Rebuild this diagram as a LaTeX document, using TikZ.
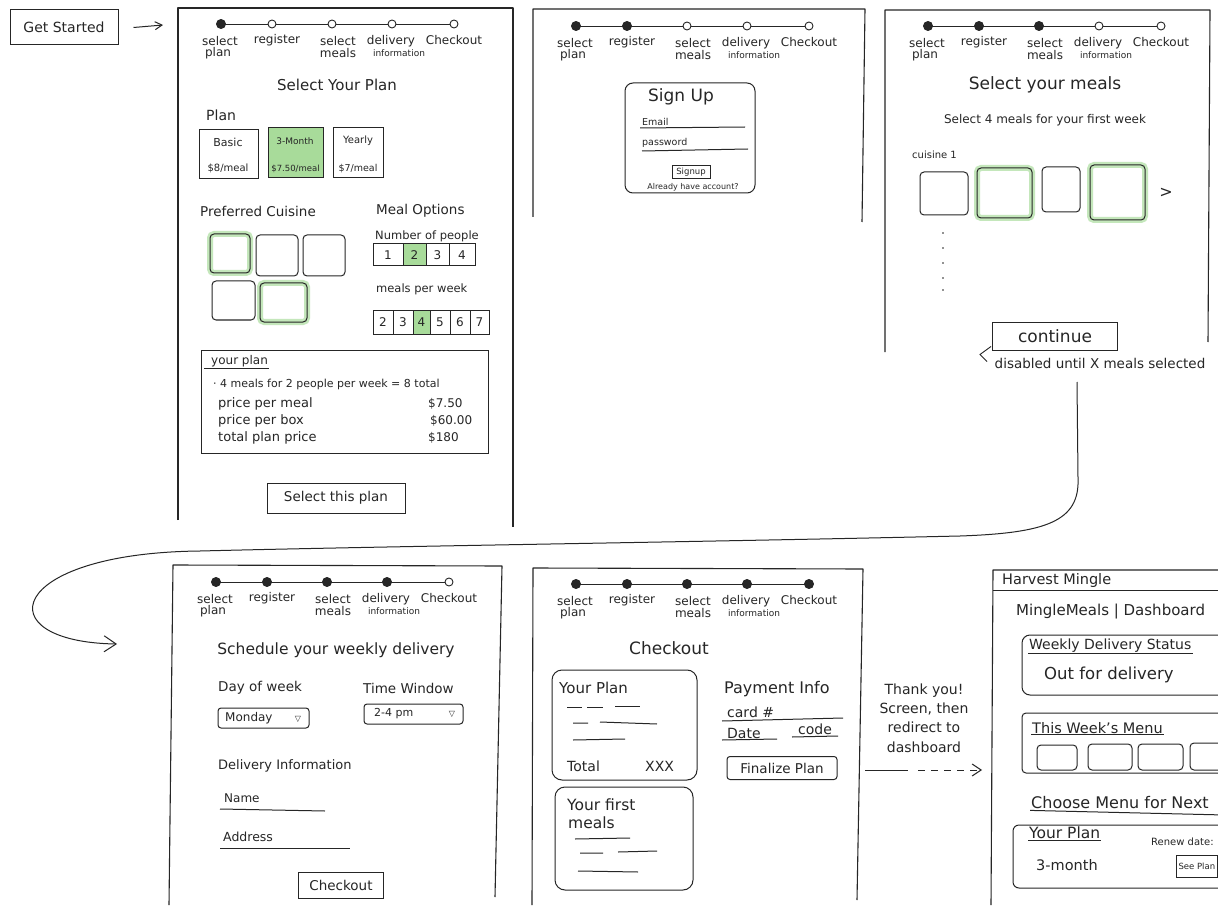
\documentclass[tikz,border=0pt]{standalone}
\usepackage{fontspec}
\setmainfont{DejaVu Sans}
\usetikzlibrary{arrows.meta}
\usetikzlibrary{positioning}
\definecolor{ink}{HTML}{262626}
\definecolor{pick}{HTML}{A8DB9A}
\definecolor{halo}{HTML}{C4E7BB}
\newcommand\fsz[1]{\fontsize{#1}{#1}\selectfont}
\tikzset{%
    lbl/.style={inner sep=1pt, text=ink},
    frame/.style={draw=ink, line width=1.1pt, line join=round},
    box/.style={draw=ink, line width=1pt},
    tile/.style={box, rounded corners=4pt},
    glow/.style={preaction={draw=halo, line width=6pt}},
    btn/.style={draw=ink, line width=1pt, inner sep=0pt, text=ink},
    stepline/.style={draw=ink, line width=0.9pt},
    stepdot/.style={circle, draw=ink, fill=white, line width=0.9pt, inner sep=0pt, minimum size=8pt},
    steplbl/.style={lbl, font=\fsz{12}},
    flow/.style={draw=ink, line width=1pt},
}
% progress bar of the sign-up flow: #1 prefix, #2 left edge, #3 dot row, #4 steps done
\newcommand\progress[4]{%
    \foreach \o [count=\i] in {43,94,154,214,276}
        \coordinate (#1d\i) at (#2+\o,#3);
    \draw [stepline] (#1d1) -- (#1d5);
    \foreach \i in {1,...,5} {
        \ifnum\i>#4\relax
            \node [stepdot] (#1s\i) at (#1d\i) {};
        \else
            \node [stepdot, fill=ink, minimum size=9pt] (#1s\i) at (#1d\i) {};
        \fi
    }
    \node [steplbl] (#1l1) at (#2+42,#3+17) {select};
    \node [steplbl] (#1l1b) at (#2+40,#3+29) {plan};
    \node [steplbl] (#1l2) at (#2+99,#3+16) {register};
    \node [steplbl] (#1l3) at (#2+160,#3+17) {select};
    \node [steplbl] (#1l3b) at (#2+160,#3+29) {meals};
    \node [steplbl] (#1l4) at (#2+213,#3+17) {delivery};
    \node [steplbl, font=\fsz{9}] (#1l4b) at (#2+221,#3+29) {information};
    \node [steplbl] (#1l5) at (#2+276,#3+16) {Checkout};
}

\begin{document}
\begin{tikzpicture}[x=1pt,y=-1pt]
\useasboundingbox (0,0) rectangle (1218,909);
\fill [white] (0,0) rectangle (1218,909);
\clip (0,0) rectangle (1218,909);

% start
\node [btn, minimum width=108pt, minimum height=35pt, font=\fsz{14}] (start) at (64,27.5) {Get Started};
\coordinate (s1in) at (163,25);
\draw [flow, -{Straight Barb[length=7pt,width=8pt]}] ([xshift=15pt]start.east) -- (s1in);

% screen 1: select plan
\draw [frame] (178,520) -- (178,8) -- (513,8) -- (513,527);
\progress{a}{178}{24}{1}
\node [lbl, font=\fsz{15}] (plantitle) at (337,85) {Select Your Plan};
\node [lbl, font=\fsz{14}, anchor=west] (plan) at (205,115) {Plan};
\draw [box] (199,130) rectangle (258,179);
\draw [box, fill=pick] (268,128) rectangle (323,178);
\draw [box] (333,128) rectangle (383,178);
\node [lbl, font=\fsz{11}] (basic) at (228,142) {Basic};
\node [lbl, font=\fsz{10}] (basicp) at (228,168) {\$8/meal};
\node [lbl, font=\fsz{9}] (month) at (295,141) {3-Month};
\node [lbl, font=\fsz{8.5}] (monthp) at (295.5,169) {\$7.50/meal};
\node [lbl, font=\fsz{10}] (year) at (358,141) {Yearly};
\node [lbl, font=\fsz{9.5}] (yearp) at (358,169) {\$7/meal};

\node [lbl, font=\fsz{13.5}, anchor=west] (cuisine) at (199,211) {Preferred Cuisine};
\node [lbl, font=\fsz{13.5}, anchor=west] (options) at (375,211) {Meal Options};
\draw [tile, glow] (210,234) rectangle (250,273);
\draw [tile] (256,235) rectangle (298,276);
\draw [tile] (303,235) rectangle (345,276);
\draw [tile] (212,281) rectangle (255,320);
\draw [tile, glow] (260,283) rectangle (307,322);

\node [lbl, font=\fsz{11.5}, anchor=west] (people) at (374,236) {Number of people};
\fill [pick] (403,244) rectangle (426,266);
\draw [box] (373,244) rectangle (475,266);
\foreach \x in {403,426,449}
    \draw [box] (\x,244) -- (\x,266);
\foreach \n/\x in {1/388,2/414.5,3/437.5,4/462}
    \node [lbl, font=\fsz{12}] (np\n) at (\x,255) {\n};

\node [lbl, font=\fsz{11.5}, anchor=west] (perweek) at (375,289) {meals per week};
\fill [pick] (413,311) rectangle (430,334);
\draw [box] (373,311) rectangle (489,334);
\foreach \x in {393,413,430,450,470}
    \draw [box] (\x,311) -- (\x,334);
\foreach \n/\x in {2/383,3/403,4/421.5,5/440,6/460,7/479.5}
    \node [lbl, font=\fsz{12}] (mw\n) at (\x,322.5) {\n};

\draw [box] (201,350) rectangle (488,453);
\node [lbl, font=\fsz{12}, anchor=west] (yourplan) at (210,361) {your plan};
\draw [box] ([xshift=-6pt]yourplan.south west) -- (yourplan.south east);
\node [lbl, font=\fsz{11}, anchor=west] (summary) at (212,384) {· 4 meals for 2 people per week = 8 total};
\node [lbl, font=\fsz{13}, anchor=west] (permeal) at (217,404) {price per meal};
\node [lbl, font=\fsz{13}, anchor=west] (perbox) at (217,421) {price per box};
\node [lbl, font=\fsz{13}, anchor=west] (planprice) at (217,438) {total plan price};
\node [lbl, font=\fsz{12}, anchor=west] (permealv) at (427,404) {\$7.50};
\node [lbl, font=\fsz{12}, anchor=west] (perboxv) at (429,421) {\$60.00};
\node [lbl, font=\fsz{12}, anchor=west] (planpricev) at (427,438) {\$180};
\node [btn, minimum width=138pt, minimum height=30pt, font=\fsz{13.5}] (selectplan) at (336,498) {Select this plan};

% screen 2: register
\draw [frame] (533,217) -- (533,9) -- (865,9) -- (862,222);
\progress{b}{533}{26}{2}
\draw [box, rounded corners=8pt] (625,83) rectangle (755,193);
\node [lbl, font=\fsz{17}] (signup) at (681,97) {Sign Up};
\node [lbl, font=\fsz{9.5}, anchor=west] (email) at (641,122) {Email};
\draw [box] (640,128) -- (745,127);
\node [lbl, font=\fsz{9.5}, anchor=west] (password) at (641,143) {password};
\draw [box] (642,151) -- (748,149);
\node [btn, minimum width=38pt, minimum height=13pt, font=\fsz{8.5}] (signupbtn) at (691,172) {Signup};
\node [lbl, font=\fsz{8}] (already) at (693,187) {Already have account?};

% screen 3: select meals
\draw [frame] (885,352) -- (885,10) -- (1210,10) -- (1208,342);
\progress{c}{885}{26}{3}
\node [lbl, font=\fsz{17}] (mealtitle) at (1045,85) {Select your meals};
\node [lbl, font=\fsz{12}] (firstweek) at (1045,120) {Select 4 meals for your first week};
\node [lbl, font=\fsz{10}, anchor=west] (cuisine1) at (911,155) {cuisine 1};
\draw [tile] (920,172) rectangle (968,215);
\draw [tile, glow] (977,168) rectangle (1032,218);
\draw [tile] (1042,167) rectangle (1080,212);
\draw [tile, glow] (1090,165) rectangle (1145,220);
\node [lbl, font=\fsz{16}] (more) at (1166,193) {>};
\foreach \y in {233,248,263,278,290}
    \fill [ink] (943,\y) circle (0.9);
\node [btn, minimum width=125pt, minimum height=28pt, font=\fsz{17}] (continue) at (1055,336) {continue};
\node [lbl, font=\fsz{13.5}] (disabled) at (1100,363) {disabled until X meals selected};
\draw [box, line width=0.9pt] ([xshift=-1pt,yshift=4pt]continue.south west) -- ++(-11,8) -- ++(7,7);

% long way round to the delivery screen
\coordinate (loopa) at (1077,382);
\coordinate (s4in) at (117,644);
\draw [flow, -{Straight Barb[length=12pt,width=16pt]}] (loopa) -- (1078,478)
    .. controls (1080,522) and (1045,533) .. (960,536)
    .. controls (700,542) and (400,546) .. (200,551)
    .. controls (5,553) and (-15,642) .. (s4in);

% screen 4: delivery information
\draw [frame] (169,905) -- (173,565) -- (502,566) -- (495,897);
\progress{d}{173}{582}{4}
\node [lbl, font=\fsz{15.5}] (schedule) at (336,650) {Schedule your weekly delivery};
\node [lbl, font=\fsz{13.5}, anchor=west] (day) at (217,688) {Day of week};
\node [lbl, font=\fsz{13.5}, anchor=west] (window) at (362,688) {Time Window};
\draw [box, rounded corners=3pt] (218,708) rectangle (309,728);
\node [lbl, font=\fsz{12}, anchor=west] (monday) at (224,718) {Monday};
\node [lbl, font=\fsz{8}] (mondaydd) at (298,719) {▽};
\draw [box, rounded corners=3pt] (364,704) rectangle (463,724);
\node [lbl, font=\fsz{11}, anchor=west] (slot) at (373,714) {2-4 pm};
\node [lbl, font=\fsz{8}] (slotdd) at (452,714) {▽};
\node [lbl, font=\fsz{13}, anchor=west] (delinfo) at (217,766) {Delivery Information};
\node [lbl, font=\fsz{12}, anchor=west] (name) at (223,798) {Name};
\draw [box] (220,809) -- (325,811);
\node [lbl, font=\fsz{12.5}, anchor=west] (address) at (222,837) {Address};
\draw [box] (220,848) -- (350,848);
\node [btn, minimum width=85pt, minimum height=26pt, font=\fsz{13.5}] (tocheckout) at (341,885) {Checkout};

% screen 5: checkout
\draw [frame] (532,905) -- (533,568) -- (863,569) -- (857,900);
\progress{e}{533}{584}{5}
\node [lbl, font=\fsz{17}] (checkout) at (669,648) {Checkout};
\draw [box, rounded corners=10pt] (552,670) rectangle (697,780);
\node [lbl, font=\fsz{15}, anchor=west] (planbox) at (558,688) {Your Plan};
\draw [box] (567,707) -- (582,707) (587,707) -- (603,707) (615,706) -- (640,706);
\draw [box] (573,723) -- (588,723) (600,722) -- (657,724);
\draw [box] (573,740) -- (625,739);
\node [lbl, font=\fsz{14}, anchor=west] (total) at (566,766) {Total};
\node [lbl, font=\fsz{14}, anchor=west] (amount) at (644,766) {XXX};
\draw [box, rounded corners=10pt] (555,787) rectangle (693,890);
\node [lbl, font=\fsz{15.5}, anchor=west] (firstmeals) at (566,805) {Your first};
\node [lbl, font=\fsz{15.5}, anchor=west] (firstmealsb) at (567,823) {meals};
\draw [box] (575,839) -- (630,838);
\draw [box] (580,853) -- (603,853) (618,852) -- (657,851);
\draw [box] (578,871) -- (638,872);
\node [lbl, font=\fsz{16}, anchor=west] (payment) at (723,689) {Payment Info};
\node [lbl, font=\fsz{14}, anchor=west] (card) at (726,712) {card \#};
\draw [box] (722,721) -- (843,718);
\node [lbl, font=\fsz{14}, anchor=west] (date) at (726,733) {Date};
\draw [box] (722,740) -- (777,739);
\node [lbl, font=\fsz{14}, anchor=west] (code) at (797,729) {code};
\draw [box] (792,737) -- (838,736);
\node [btn, rounded corners=3pt, minimum width=110pt, minimum height=23pt, font=\fsz{13.5}] (finalize) at (782,768) {Finalize Plan};

\node [lbl, font={\fontsize{14}{19.3}\selectfont}, align=center] (thanks) at (924,718) {Thank you!\\Screen, then\\redirect to\\dashboard};
\coordinate (outa) at (865,770);
\coordinate (outb) at (908,770);
\coordinate (s6in) at (982,770);
\draw [flow] (outa) -- (outb);
\draw [flow, dash pattern=on 7pt off 6pt, -{Straight Barb[length=9pt,width=12pt]}] ([xshift=10pt]outb) -- (s6in);

% screen 6: dashboard
\draw [frame] (991,905) -- (993,570) -- (1225,570);
\draw [box] (993,590) -- (1225,590);
\node [lbl, font=\fsz{14.5}, anchor=west] (brand) at (1001,580) {Harvest Mingle};
\node [lbl, font=\fsz{15}, anchor=west] (dashboard) at (1015,612) {MingleMeals | Dashboard};
\draw [box, rounded corners=8pt] (1022,635) rectangle (1240,695);
\node [lbl, font=\fsz{14}, anchor=west] (status) at (1028,646) {Weekly Delivery Status};
\draw [box] (status.south west) -- (status.south east);
\node [lbl, font=\fsz{16.5}, anchor=west] (outfor) at (1043,675) {Out for delivery};
\draw [box, rounded corners=4pt] (1022,713) rectangle (1240,773);
\node [lbl, font=\fsz{14.5}, anchor=west] (menu) at (1031,728) {This Week's Menu};
\draw [box] (menu.south west) -- (menu.south east);
\draw [tile] (1037,745) rectangle (1077,770);
\draw [tile] (1088,744) rectangle (1132,770);
\draw [tile] (1138,744) rectangle (1183,770);
\draw [tile] (1190,743) rectangle (1240,770);
\node [lbl, font=\fsz{16}, anchor=west] (choose) at (1030,803) {Choose Menu for Next};
\draw [box] (choose.south west) -- (1225,815);
\draw [box, rounded corners=6pt] (1013,825) rectangle (1240,888);
\node [lbl, font=\fsz{15.5}, anchor=west] (planinfo) at (1028,833) {Your Plan};
\draw [box] (planinfo.south west) -- (planinfo.south east);
\node [lbl, font=\fsz{10}, anchor=west] (renew) at (1150,842) {Renew date:};
\node [lbl, font=\fsz{14.5}, anchor=west] (term) at (1035,865) {3-month};
\node [btn, minimum height=22pt, inner xsep=2pt, font=\fsz{8.5}, anchor=west] (seeplan) at (1176,866) {See Plan};
\end{tikzpicture}
\end{document}
